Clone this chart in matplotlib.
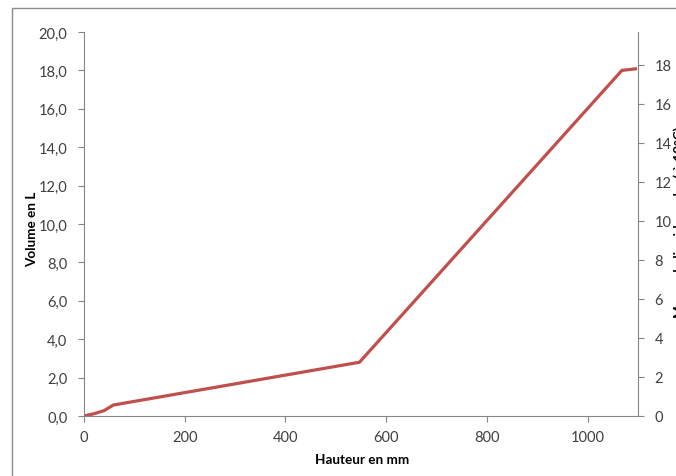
import matplotlib.pyplot as plt
from matplotlib.patches import Rectangle
from matplotlib.ticker import FuncFormatter

# data
hauteur_mm = [0, 20, 40, 58, 547, 1068, 1095]
volume_l = [0, 0.12, 0.28, 0.57, 2.8, 18.0, 18.08]

left_ticks = [0, 2, 4, 6, 8, 10, 12, 14, 16, 18, 20]
right_ticks = [0, 2, 4, 6, 8, 10, 12, 14, 16, 18]
x_ticks = [0, 200, 400, 600, 800, 1000]

plt.rcParams['font.family'] = ['Lato', 'DejaVu Sans']
grey = '#868686'
txt = '#404040'

fig = plt.figure(figsize=(6.76, 4.77), dpi=100)
W, H = 676, 477

# outer chart border (cropped on right and bottom)
fig.patches.append(Rectangle((12 / W, -0.1), 1.2, 1 - 9 / H + 0.1,
                             transform=fig.transFigure, fill=False,
                             edgecolor='#8c8c8c', linewidth=1.0))

ax = fig.add_axes([84 / W, (H - 417) / H, 554 / W, 384 / H])
ax.plot(hauteur_mm, volume_l, color='#C0504D', linewidth=2.3,
        solid_joinstyle='miter')
ax.set_xlim(0, 1100)
ax.set_ylim(0, 20)
ax.set_xticks(x_ticks)
ax.set_yticks(left_ticks)
ax.yaxis.set_major_formatter(FuncFormatter(lambda v, p: f'{v:.1f}'.replace('.', ',')))

for s in ['top', 'right']:
    ax.spines[s].set_visible(False)
for s in ['left', 'bottom']:
    ax.spines[s].set_color(grey)
    ax.spines[s].set_linewidth(0.8)
ax.tick_params(axis='both', colors=grey, labelcolor=txt, labelsize=10.5,
               length=4, width=0.8, direction='out')
ax.tick_params(axis='x', pad=6)
ax.tick_params(axis='y', pad=8)

ax2 = ax.twinx()
ax2.set_ylim(0, 19.68)
ax2.set_yticks(right_ticks)
for s in ['top', 'left', 'bottom']:
    ax2.spines[s].set_visible(False)
ax2.spines['right'].set_color(grey)
ax2.spines['right'].set_linewidth(0.8)
ax2.tick_params(axis='y', colors=grey, labelcolor=txt, labelsize=10.5,
                length=4, width=0.8, direction='out', pad=8)

fig.text(32 / W, 1 - 229 / H, 'Volume en L', rotation=90, ha='center', va='center',
         fontsize=9.7, fontweight='bold', color='black')
fig.text(362 / W, 1 - 460 / H, 'Hauteur en mm', ha='center', va='center',
         fontsize=9.7, fontweight='bold', color='black')
fig.text(680 / W, 1 - 222 / H, 'Masse de liquide en kg ( à 10°C)', rotation=90,
         ha='center', va='center', fontsize=9.7, fontweight='bold', color='black')

fig.savefig('out.png', dpi=100)
